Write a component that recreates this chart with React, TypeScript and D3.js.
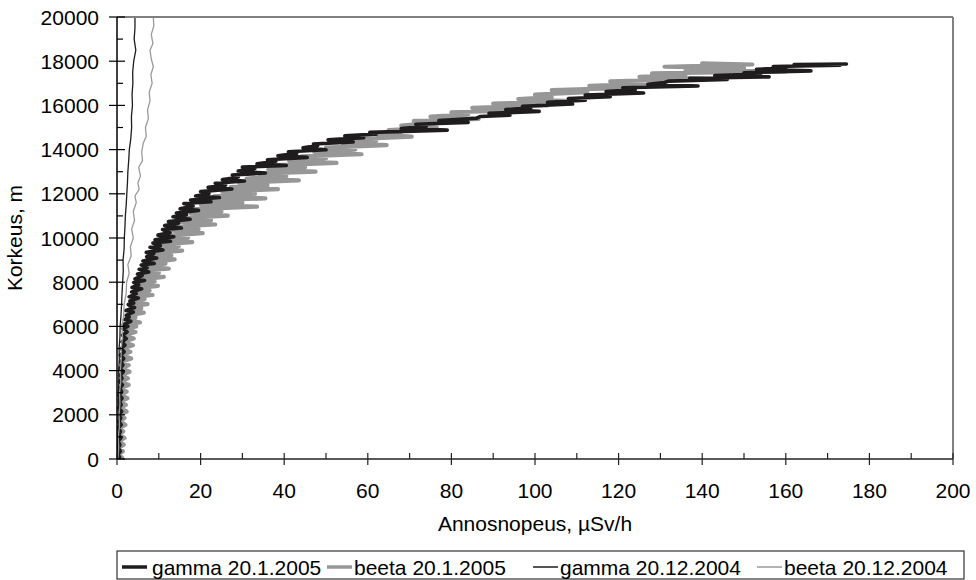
import React from "react";
import * as d3 from "d3";

// [altitude m, dose rate µSv/h]
const gamma2005: [number, number][] = [
  [0,0.1],[80,0.6],[200,0.2],[350,0.8],[500,0.3],[650,0.7],[800,0.2],[950,0.9],[1100,0.4],[1250,0.8],[1400,0.3],[1550,1.0],[1700,0.4],[1850,0.9],[2000,0.5],[2150,1.1],[2300,0.4],[2450,1.0],[2600,0.6],[2750,1.2],[2900,0.5],[3050,1.1],[3200,0.7],[3350,1.3],[3500,0.6],[3650,1.2],[3800,0.8],[3950,1.5],[4100,0.7],[4250,1.4],[4400,0.9],[4550,1.6],[4700,0.8],[4850,1.7],[5000,1.0],[5150,1.9],[5300,1.2],[5450,2.2],[5600,1.3],[5750,2.4],[5900,1.5],
  [6000,2.6],[6080,1.5],[6230,3.3],[6310,1.8],[6420,2.9],[6500,2.2],[6650,3.9],[6720,2.1],[6850,4.2],[6990,2.7],[7060,4.0],[7150,3.1],[7280,5.1],[7340,2.9],[7480,4.6],[7560,3.5],[7700,5.9],[7760,3.6],[7880,5.2],[7990,4.0],
  [8080,6.6],[8150,4.3],[8300,6.0],[8370,4.9],[8460,7.6],[8590,5.3],[8650,7.2],[8780,5.8],[8850,8.9],[8960,6.2],[9090,9.5],[9150,7.1],[9280,8.8],[9350,7.0],[9460,11.0],[9580,7.9],[9650,10.4],[9770,8.6],[9850,12.8],[9920,9.1],
  [10060,13.6],[10130,9.8],[10250,12.7],[10380,10.9],[10450,15.4],[10560,11.4],[10680,14.8],[10740,12.3],[10850,17.5],[10960,13.4],[11050,16.6],[11130,14.2],[11250,19.5],[11320,15.1],[11450,18.2],[11560,16.0],[11640,22.5],[11720,17.6],[11830,24.5],[11900,18.8],
  [12010,22.0],[12100,20.0],[12220,27.5],[12290,21.8],[12390,26.0],[12480,23.5],[12580,30.5],[12640,25.2],[12760,29.0],[12850,27.6],[12940,35.5],[13030,29.0],[13150,33.0],[13210,30.0],[13280,40.5],[13360,33.5],[13470,38.0],[13540,36.0],[13650,45.5],[13720,38.5],[13830,43.0],[13900,41.0],[13990,50.0],
  [14080,44.5],[14180,48.0],[14250,47.0],[14350,56.5],[14440,50.5],[14540,59.0],[14620,54.5],[14700,62.0],[14780,60.5],[14880,79.0],[14950,68.0],[15060,74.0],[15150,71.5],[15230,84.0],[15320,77.0],[15420,86.0],[15500,87.0],
  [15560,94.0],[15640,89.0],[15730,101.0],[15810,93.0],[15890,99.0],[15960,97.0],[16060,109.0],[16140,103.0],[16230,112.0],[16310,108.0],[16390,118.0],[16470,112.0],[16560,126.0],[16630,117.0],[16720,124.0],[16800,121.0],
  [16880,139.0],[16950,127.0],[17040,131.0],[17100,132.0],[17170,146.0],[17230,137.0],[17290,156.0],[17350,143.0],[17420,154.0],[17480,150.0],[17560,166.0],[17630,153.0],[17700,160.0],[17760,157.0],[17820,173.0],[17850,162.0],[17870,174.5],
];

const beta2005: [number, number][] = [
  [0,0.2],[60,1.2],[200,0.3],[350,1.4],[500,0.4],[650,1.6],[800,0.3],[950,1.8],[1100,0.5],[1250,1.5],[1400,0.4],[1550,2.0],[1700,0.6],[1850,1.8],[2000,0.5],[2150,2.3],[2300,0.7],[2450,2.1],[2600,0.6],[2750,2.5],[2900,0.8],[3050,2.3],[3200,0.7],[3350,2.8],[3500,0.9],[3650,2.6],[3800,1.0],[3950,3.0],[4100,1.1],[4250,2.8],[4400,1.0],[4550,3.4],[4700,1.2],[4850,3.2],[5000,1.3],[5150,3.8],[5300,1.5],[5450,4.0],[5600,1.6],[5750,4.4],[5900,1.9],
  [6000,4.6],[6090,1.9],[6180,5.5],[6320,2.4],[6410,4.4],[6490,2.5],[6620,6.4],[6700,2.9],[6820,5.8],[6930,3.1],[7010,7.3],[7130,3.2],[7240,6.6],[7310,3.8],[7420,8.5],[7540,4.1],[7610,7.8],[7720,4.6],[7830,9.8],[7900,5.2],
  [8030,9.0],[8120,5.5],[8240,11.2],[8310,6.2],[8430,10.0],[8540,6.8],[8610,12.4],[8720,7.4],[8840,11.6],[8910,8.2],[9030,13.8],[9120,8.8],[9210,13.0],[9320,9.4],[9430,15.6],[9510,10.2],[9630,14.8],[9720,11.0],[9810,18.0],[9920,11.8],
  [10020,17.0],[10110,12.7],[10220,20.5],[10320,13.6],[10410,19.5],[10520,14.6],[10610,23.5],[10720,15.7],[10810,22.5],[10910,16.6],[11010,26.5],[11120,17.6],[11210,25.0],[11310,18.6],[11420,33.5],[11490,20.1],[11600,30.0],[11710,21.6],[11790,35.5],[11890,23.2],
  [12010,33.0],[12100,25.2],[12210,38.5],[12300,27.2],[12380,36.0],[12500,29.2],[12610,43.5],[12690,31.0],[12800,40.5],[12910,34.0],[13000,47.5],[13090,36.2],[13210,45.0],[13300,38.2],[13400,52.5],[13490,41.2],[13610,50.0],[13690,44.2],[13790,58.5],[13900,47.2],
  [14010,57.0],[14090,50.0],[14200,64.5],[14290,54.0],[14400,62.0],[14480,58.0],[14590,70.5],[14690,62.0],[14800,68.0],[14880,65.0],[15000,76.5],[15090,68.0],[15190,74.0],[15300,71.0],[15390,86.5],[15490,75.0],[15600,84.0],[15690,80.0],[15790,98.5],[15890,85.0],
  [16000,103.0],[16080,90.0],[16190,108.5],[16290,96.0],[16380,104.0],[16490,100.0],[16600,112.5],[16690,104.0],[16790,122.5],[16890,113.0],[17000,130.0],[17090,118.0],[17200,140.5],[17290,125.0],[17390,136.0],[17450,128.0],[17540,160.0],[17600,136.0],[17690,150.0],[17750,131.0],[17850,152.0],[17900,140.0],
];

const gamma2004: [number, number][] = [
  [0,0.1],[500,0.2],[1000,0.15],[1500,0.3],[2000,0.25],[2500,0.35],[3000,0.3],[3500,0.45],[4000,0.4],[4500,0.55],[5000,0.5],[5500,0.7],[6000,0.75],[6500,0.95],[7000,1.1],[7500,1.2],[8000,1.35],[8500,1.5],[9000,1.45],[9500,1.7],[10000,1.75],[10500,1.9],[11000,2.0],[11500,2.2],[12000,2.35],[12500,2.5],[13000,2.6],[13500,2.8],[14000,2.95],[14500,3.3],[15000,3.5],[15500,3.45],[16000,3.7],[16500,3.6],[17000,3.8],[17500,3.75],[18000,4.0],[18500,4.5],[19000,4.1],[19500,4.3],[20000,4.3],
];

const beta2004: [number, number][] = [
  [0,0.2],[500,0.4],[1000,0.3],[1500,0.6],[2000,0.5],[2500,0.7],[3000,0.6],[3500,0.9],[4000,0.8],[4500,1.0],[5000,1.0],[5500,1.3],[6000,1.2],[6500,1.6],[7000,1.7],[7500,2.2],[8000,2.3],[8400,2.9],[8800,2.6],[9200,3.4],[9600,3.2],[10000,3.9],[10400,3.5],[10800,4.2],[11200,3.9],[11600,4.6],[11900,4.3],[12200,5.3],[12500,5.0],[12800,5.6],[13200,5.2],[13500,6.1],[13900,5.9],[14300,6.3],[14600,7.0],[15000,6.8],[15400,7.5],[15800,7.3],[16200,7.9],[16600,7.7],[17000,8.4],[17400,8.1],[17750,8.7],[18100,8.2],[18500,7.9],[18800,8.6],[19200,8.2],[19600,8.8],[20000,8.7],
];

const xTicks = [0, 20, 40, 60, 80, 100, 120, 140, 160, 180, 200];
const xMinorTicks = [10, 30, 50, 70, 90, 110, 130, 150, 170, 190];
const yTicks = [0, 2000, 4000, 6000, 8000, 10000, 12000, 14000, 16000, 18000, 20000];
const yMinorTicks = [1000, 3000, 5000, 7000, 9000, 11000, 13000, 15000, 17000, 19000];

const seriesNames = ["gamma 20.1.2005", "beeta 20.1.2005", "gamma 20.12.2004", "beeta 20.12.2004"];
const xTitle = "Annosnopeus, µSv/h";
const yTitle = "Korkeus, m";

const W = 976, H = 580;
const M = { left: 117, right: 953, top: 17, bottom: 459 };
const FONT = "Arial, 'Liberation Sans', sans-serif";

const styles = [
  { color: "#1f1c1d", width: 3.6 },
  { color: "#979797", width: 4.2 },
  { color: "#1f1c1d", width: 1.3 },
  { color: "#9a9a9a", width: 1.3 },
];
const legendLineX = [122, 327, 533, 757];
const legendTextX = [152, 354, 560, 784];

export default function App() {
  const x = d3.scaleLinear().domain([0, 200]).range([M.left, M.right]);
  const y = d3.scaleLinear().domain([0, 20000]).range([M.bottom, M.top]);
  const line = d3
    .line<[number, number]>()
    .x((d) => x(d[1]))
    .y((d) => y(d[0]));

  const data = [gamma2005, beta2005, gamma2004, beta2004];
  const drawOrder = [1, 0, 2, 3];

  return (
    <svg
      width={W}
      height={H}
      style={{ position: "absolute", left: 0, top: 0, background: "#fff" }}
      fontFamily={FONT}
    >
      <defs>
        <clipPath id="plotclip">
          <rect x={M.left} y={M.top} width={M.right - M.left} height={M.bottom - M.top} />
        </clipPath>
      </defs>
      <rect x={0} y={0} width={W} height={H} fill="#fff" />

      <g clipPath="url(#plotclip)">
        {drawOrder.map((i) => (
          <path
            key={i}
            d={line(data[i]) || ""}
            fill="none"
            stroke={styles[i].color}
            strokeWidth={styles[i].width}
            strokeLinejoin="round"
            strokeLinecap="round"
          />
        ))}
      </g>

      <line x1={M.left} x2={M.right} y1={M.top} y2={M.top} stroke="#808080" strokeWidth={2} />
      <line x1={M.right} x2={M.right} y1={M.top} y2={M.bottom} stroke="#808080" strokeWidth={2} />
      <line x1={M.left} x2={M.right} y1={M.bottom} y2={M.bottom} stroke="#222" strokeWidth={1.5} />
      <line x1={M.left} x2={M.left} y1={M.top} y2={M.bottom} stroke="#000" strokeWidth={1.5} />

      {xTicks.map((t) => (
        <g key={"xt" + t}>
          <line x1={x(t)} x2={x(t)} y1={M.bottom - 6} y2={M.bottom + 6} stroke="#222" strokeWidth={1.2} />
          <text x={x(t)} y={498} fontSize={21} textAnchor="middle" fill="#000">
            {t}
          </text>
        </g>
      ))}
      {xMinorTicks.map((t) => (
        <line key={"xm" + t} x1={x(t)} x2={x(t)} y1={M.bottom - 6} y2={M.bottom} stroke="#222" strokeWidth={1.2} />
      ))}

      {yTicks.map((t) => (
        <g key={"yt" + t}>
          <line x1={M.left - 8} x2={M.left + 8} y1={y(t)} y2={y(t)} stroke="#000" strokeWidth={1.2} />
          <text x={99} y={y(t)} dy="0.36em" fontSize={21} textAnchor="end" fill="#000">
            {t}
          </text>
        </g>
      ))}
      {yMinorTicks.map((t) => (
        <line key={"ym" + t} x1={M.left} x2={M.left + 6} y1={y(t)} y2={y(t)} stroke="#000" strokeWidth={1.2} />
      ))}

      <text x={(M.left + M.right) / 2} y={531} fontSize={21} textAnchor="middle" fill="#000">
        {xTitle}
      </text>
      <text
        transform={`translate(22, ${(M.top + M.bottom) / 2}) rotate(-90)`}
        fontSize={21}
        textAnchor="middle"
        fill="#000"
      >
        {yTitle}
      </text>

      <rect x={117} y={551} width={847} height={28} fill="#fff" stroke="#333" strokeWidth={1.2} />
      {seriesNames.map((name, i) => (
        <g key={name}>
          <line
            x1={legendLineX[i]}
            x2={legendLineX[i] + 25}
            y1={567}
            y2={567}
            stroke={styles[i].color}
            strokeWidth={i < 2 ? 3.5 : 1.5}
          />
          <text x={legendTextX[i]} y={567} dy="0.36em" fontSize={21} fill="#000">
            {name}
          </text>
        </g>
      ))}
    </svg>
  );
}
